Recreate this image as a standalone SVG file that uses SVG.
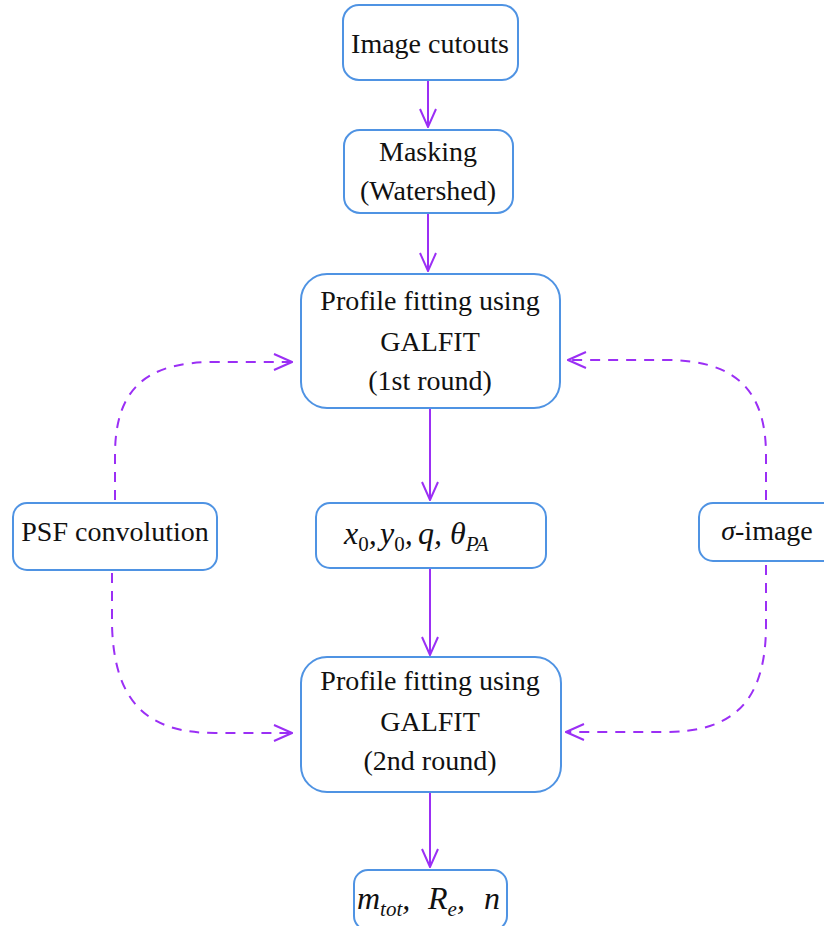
<svg xmlns="http://www.w3.org/2000/svg" width="824" height="926" viewBox="0 0 824 926">
<defs>
<style>
.box{fill:#fff;stroke:#4f93e3;stroke-width:2}
.t{font-family:"Liberation Serif","Times New Roman",serif;font-size:28px;fill:#111;text-anchor:middle}
.m{font-family:"Liberation Serif","Times New Roman",serif;font-size:32px;font-style:italic;fill:#111}
.s{font-size:21px}
.u{font-style:normal}
.c{fill:none;stroke:#9b2ff5;stroke-width:2}
.d{stroke-dasharray:10 8}
</style>
<marker id="ah" viewBox="0 0 20 20" refX="19" refY="10" markerWidth="20" markerHeight="20" markerUnits="userSpaceOnUse" orient="auto">
<path d="M1,2 L19,10 L1,18" fill="none" stroke="#9b2ff5" stroke-width="2"/>
</marker>
</defs>
<rect width="824" height="926" fill="#fff"/>
<g id="connectors">
<path class="c" d="M428,80 V127" marker-end="url(#ah)"/>
<path class="c" d="M428,213 V271" marker-end="url(#ah)"/>
<path class="c" d="M430,408 V500" marker-end="url(#ah)"/>
<path class="c" d="M430,568 V655" marker-end="url(#ah)"/>
<path class="c" d="M430,792 V867" marker-end="url(#ah)"/>
<path class="c d" d="M115,500 V455 C115,385 150,362 215,362 H292" marker-end="url(#ah)"/>
<path class="c d" d="M112,573 V625 C114,705 150,733 215,733 H292" marker-end="url(#ah)"/>
<path class="c d" d="M766,500 V455 C766,385 730,360 665,360 H568" marker-end="url(#ah)"/>
<path class="c d" d="M766,565 V625 C766,705 730,732 665,732 H566" marker-end="url(#ah)"/>
</g>
<g id="image-cutouts">
<rect class="box" x="343" y="5" width="175" height="75" rx="16"/>
<text class="t" x="430" y="53">Image cutouts</text>
</g>
<g id="masking">
<rect class="box" x="344" y="130" width="169" height="83" rx="16"/>
<text class="t" x="428" y="161">Masking</text>
<text class="t" x="428" y="200">(Watershed)</text>
</g>
<g id="profile-1">
<rect class="box" x="301" y="274" width="259" height="134" rx="26"/>
<text class="t" x="430" y="310">Profile fitting using</text>
<text class="t" x="430" y="351">GALFIT</text>
<text class="t" x="430" y="390">(1st round)</text>
</g>
<g id="params-1">
<rect class="box" x="316" y="503" width="230" height="65" rx="14"/>
<text class="m" x="344" y="544">x<tspan class="s u" dy="7">0</tspan><tspan dy="-7">,</tspan><tspan x="380">y</tspan><tspan class="s u" dy="7">0</tspan><tspan dy="-7">,</tspan><tspan x="418">q,</tspan><tspan x="450">θ</tspan><tspan class="s" dy="7">PA</tspan></text>
</g>
<g id="psf">
<rect class="box" x="13" y="503" width="204" height="67" rx="14"/>
<text class="t" x="115" y="541">PSF convolution</text>
</g>
<g id="sigma">
<rect class="box" x="699" y="503" width="140" height="58" rx="14"/>
<text class="t" x="767" y="540"><tspan font-style="italic">σ</tspan>-image</text>
</g>
<g id="profile-2">
<rect class="box" x="301" y="657" width="260" height="135" rx="26"/>
<text class="t" x="430" y="690">Profile fitting using</text>
<text class="t" x="430" y="731">GALFIT</text>
<text class="t" x="430" y="770">(2nd round)</text>
</g>
<g id="params-2">
<rect class="box" x="354" y="870" width="153" height="60" rx="14"/>
<text class="m" x="357" y="909">m<tspan class="s" dy="7">tot</tspan><tspan dy="-7">,</tspan><tspan x="428">R</tspan><tspan class="s" dy="7">e</tspan><tspan dy="-7">,</tspan><tspan x="484">n</tspan></text>
</g>
</svg>
